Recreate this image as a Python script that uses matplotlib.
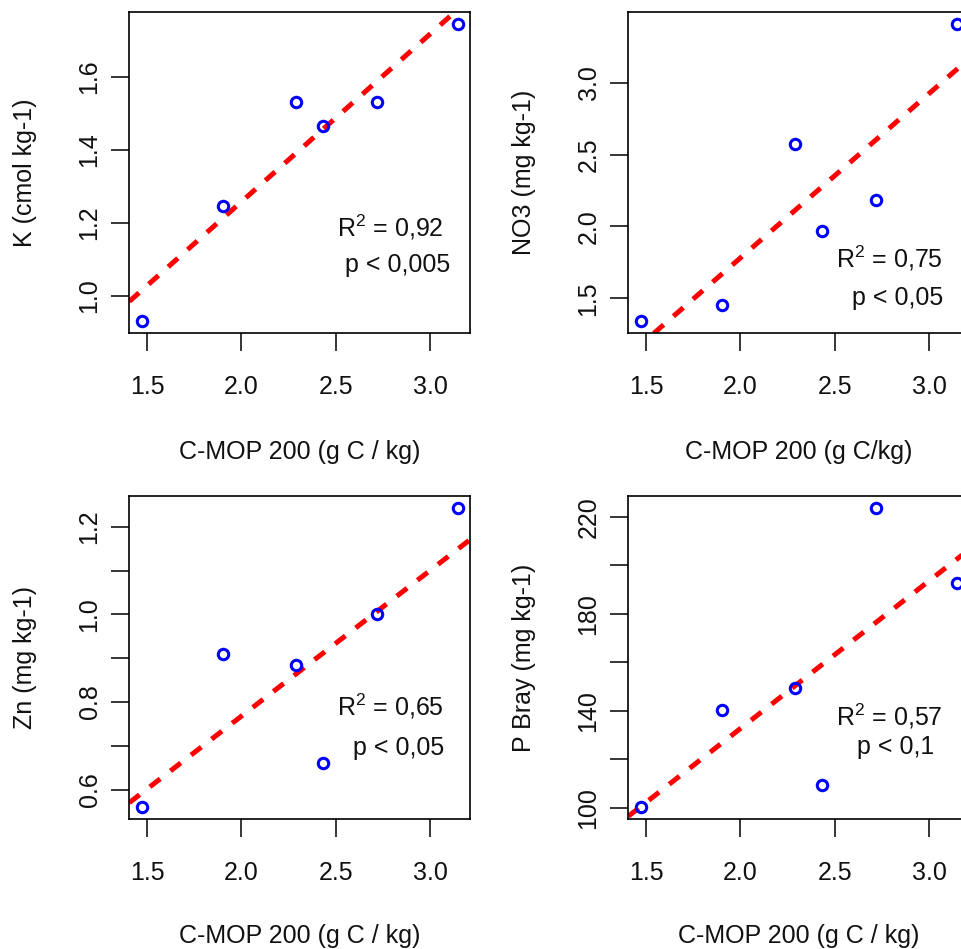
import matplotlib
matplotlib.use("Agg")
import matplotlib.pyplot as plt
import numpy as np

plt.rcParams["font.family"] = ["Liberation Sans", "DejaVu Sans"]
plt.rcParams["mathtext.fontset"] = "custom"
plt.rcParams["mathtext.rm"] = "Liberation Sans"
plt.rcParams["mathtext.it"] = "Liberation Sans:italic"

# C-MOP 200 (g C / kg), shared x for the four panels
c_mop = [1.473, 1.90, 2.29, 2.43, 2.72, 3.145]

k_soil = [0.93, 1.245, 1.53, 1.465, 1.53, 1.745]
no3 = [1.34, 1.455, 2.575, 1.965, 2.185, 3.41]
zn = [0.56, 0.91, 0.885, 0.66, 1.00, 1.243]
p_bray = [100.3, 140.1, 149.2, 109.4, 223.6, 192.8]

y_labels = ["K (cmol kg-1)", "NO3 (mg kg-1)", "Zn (mg kg-1)", "P Bray (mg kg-1)"]
x_labels = ["C-MOP 200 (g C / kg)", "C-MOP 200 (g C/kg)",
            "C-MOP 200 (g C / kg)", "C-MOP 200 (g C / kg)"]
r2_labels = ["R$^2$ = 0,92", "R$^2$ = 0,75", "R$^2$ = 0,65", "R$^2$ = 0,57"]
p_labels = ["p < 0,005", "p < 0,05", "p < 0,05", "p < 0,1"]

x_ticks = [1.5, 2.0, 2.5, 3.0]
y_ticks = [
    [1.0, 1.2, 1.4, 1.6],
    [1.5, 2.0, 2.5, 3.0],
    [0.6, 0.7, 0.8, 0.9, 1.0, 1.1, 1.2],
    [100, 120, 140, 160, 180, 200, 220],
]
y_tick_text = [
    ["1.0", "1.2", "1.4", "1.6"],
    ["1.5", "2.0", "2.5", "3.0"],
    ["0.6", "", "0.8", "", "1.0", "", "1.2"],
    ["100", "", "140", "", "180", "", "220"],
]

W, H = 961, 949
# panel boxes in pixels: left, top, right, bottom (right column runs off the image)
boxes = [
    (129.3, 11.7, 470.3, 333.3),
    (628.3, 11.7, 969.3, 333.3),
    (129.3, 496.0, 470.3, 819.0),
    (628.3, 496.0, 969.3, 819.0),
]
# annotation centres in axes fraction
r2_pos = [(0.765, 0.331), (0.767, 0.233), (0.766, 0.348), (0.765, 0.317)]
p_pos = [(0.788, 0.212), (0.789, 0.109), (0.789, 0.219), (0.783, 0.224)]
xlab_y = [-0.368, -0.368, -0.362, -0.362]

FS = 18


def r_range(v):
    lo, hi = min(v), max(v)
    pad = 0.04 * (hi - lo)
    return lo - pad, hi + pad


fig = plt.figure(figsize=(W / 100, H / 100), dpi=100)
series = [k_soil, no3, zn, p_bray]

for i, y in enumerate(series):
    l, t, r, b = boxes[i]
    ax = fig.add_axes([l / W, 1 - b / H, (r - l) / W, (b - t) / H])
    x = np.array(c_mop)
    yy = np.array(y)
    slope, intercept = np.polyfit(x, yy, 1)
    ax.axline((0, intercept), slope=slope, color="red", lw=3.6,
              linestyle=(0, (2.6, 2.6)), dash_capstyle="butt", zorder=2)
    ax.plot(x, yy, "o", mfc="none", mec="#0000FF", ms=7.5, mew=2.2, zorder=3)
    ax.set_xlim(*r_range(c_mop))
    ax.set_ylim(*r_range(y))
    ax.set_xticks(x_ticks)
    ax.set_xticklabels([f"{v:.1f}" for v in x_ticks])
    ax.set_yticks(y_ticks[i])
    ax.set_yticklabels(y_tick_text[i], rotation=90, va="center")
    ax.tick_params(axis="both", direction="out", length=13, width=1.1,
                   labelsize=FS, color="black", labelcolor="#111111")
    ax.tick_params(axis="x", pad=17)
    ax.tick_params(axis="y", pad=7)
    for s in ax.spines.values():
        s.set_linewidth(1.2)
    ax.set_xlabel(x_labels[i], fontsize=FS, color="#111111", va="center")
    ax.xaxis.set_label_coords(0.5, xlab_y[i])
    ax.set_ylabel(y_labels[i], fontsize=FS, color="#111111", va="center")
    ax.yaxis.set_label_coords((25 + (l - 129.3) - l) / (r - l), 0.5)
    ax.text(*r2_pos[i], r2_labels[i], transform=ax.transAxes, fontsize=FS,
            ha="center", va="center", color="#111111")
    ax.text(*p_pos[i], p_labels[i], transform=ax.transAxes, fontsize=FS,
            ha="center", va="center", color="#111111")

fig.savefig("out.png", dpi=100)
